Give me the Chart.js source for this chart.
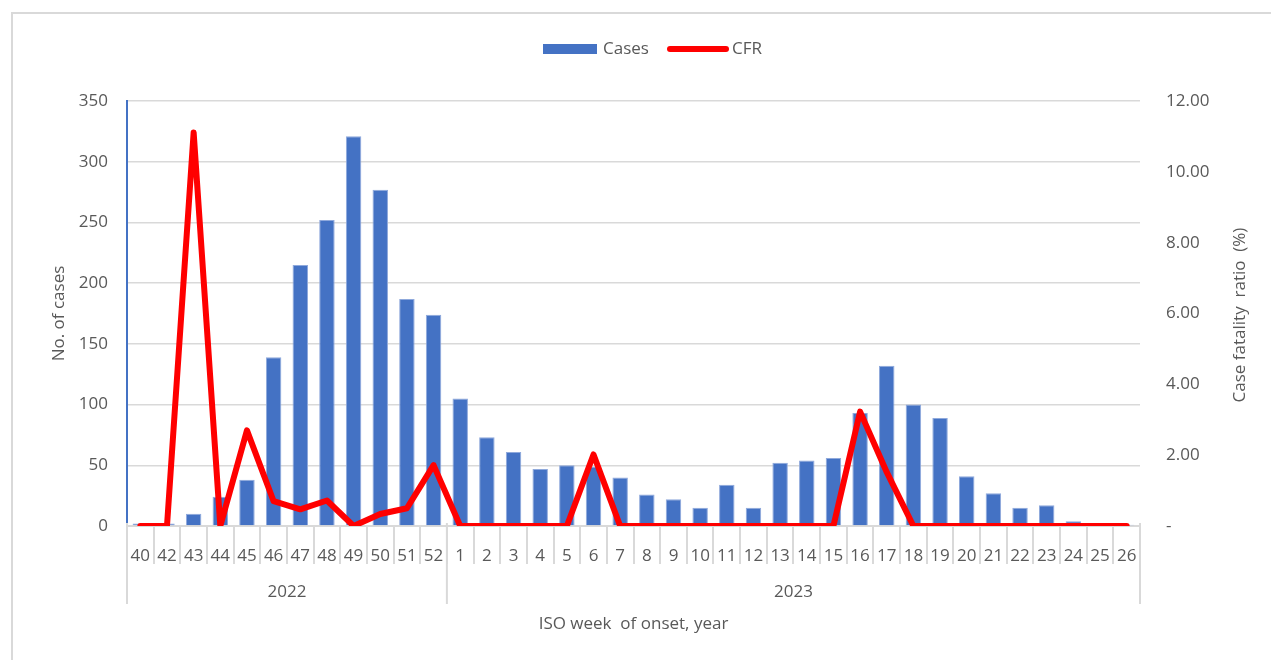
<!DOCTYPE html>
<html>
<head>
<meta charset="utf-8">
<script src="https://cdn.jsdelivr.net/npm/chart.js@4.4.1/dist/chart.umd.min.js"></script>
<style>
  html, body { margin: 0; padding: 0; background: #ffffff; }
  #wrap { position: relative; width: 1271px; height: 660px; }
  canvas { display: block; }
</style>
</head>
<body>
<div id="wrap"><canvas id="chart" width="1271" height="660"></canvas></div>
<script>
// ISO weeks of onset and the year each week belongs to
const weeks = ['40','42','43','44','45','46','47','48','49','50','51','52',
  '1','2','3','4','5','6','7','8','9','10','11','12','13','14','15','16','17','18','19','20','21','22','23','24','25','26'];
const years = ['2022','2022','2022','2022','2022','2022','2022','2022','2022','2022','2022','2022',
  '2023','2023','2023','2023','2023','2023','2023','2023','2023','2023','2023','2023','2023',
  '2023','2023','2023','2023','2023','2023','2023','2023','2023','2023','2023','2023','2023'];

// Weekly case counts
const cases = [2, 2, 10, 24, 38, 139, 215, 252, 321, 277, 187, 174,
  105, 73, 61, 47, 50, 49, 40, 26, 22, 15, 34, 15, 52, 54, 56, 93, 132, 100, 89, 41, 27, 15, 17, 4, 0, 1];

// Case fatality ratio (%) per week
const cfr = [0, 0, 11.11, 0, 2.70, 0.70, 0.47, 0.72, 0, 0.34, 0.50, 1.72,
  0, 0, 0, 0, 0, 2.02, 0, 0, 0, 0, 0, 0, 0, 0, 0, 3.23, 1.52, 0, 0, 0, 0, 0, 0, 0, 0, 0];

// Axis tick settings
const casesTicks = { min: 0, max: 350, step: 50 };
const cfrTicks = { min: 0, max: 12, step: 2 };

const FONT = "'Open Sans', sans-serif";
const TEXT = '#595959';
const GRID = '#d9d9d9';
const BLUE = '#4472C4';
const RED = '#FF0000';

Chart.defaults.font.family = FONT;
Chart.defaults.font.size = 17;
Chart.defaults.color = TEXT;

// Chart frame, legend, year row and right-hand title
const decorations = {
  id: 'decorations',
  afterDraw(chart) {
    const ctx = chart.ctx;
    const x = chart.scales.x;
    const area = chart.chartArea;
    ctx.save();

    // outer frame
    ctx.strokeStyle = GRID;
    ctx.lineWidth = 2;
    ctx.beginPath();
    ctx.moveTo(12, 660);
    ctx.lineTo(12, 13);
    ctx.lineTo(1271, 13);
    ctx.stroke();

    // legend
    ctx.font = '17px ' + FONT;
    ctx.textBaseline = 'middle';
    ctx.textAlign = 'left';
    ctx.fillStyle = BLUE;
    ctx.fillRect(543, 44, 54, 10);
    ctx.fillStyle = TEXT;
    ctx.fillText('Cases', 603, 49);
    ctx.strokeStyle = RED;
    ctx.lineWidth = 6;
    ctx.lineCap = 'round';
    ctx.beginPath();
    ctx.moveTo(670, 49);
    ctx.lineTo(726, 49);
    ctx.stroke();
    ctx.fillText('CFR', 732, 49);

    // year group row
    const n = weeks.length;
    const w = x.getPixelForValue(1) - x.getPixelForValue(0);
    const bounds = [x.getPixelForValue(0) - w / 2];
    const groups = [];
    let start = 0;
    for (let i = 1; i <= n; i++) {
      if (i === n || years[i] !== years[i - 1]) {
        const left = x.getPixelForValue(start) - w / 2;
        const right = x.getPixelForValue(i - 1) + w / 2;
        groups.push({ label: years[start], mid: (left + right) / 2 });
        bounds.push(right);
        start = i;
      }
    }
    ctx.strokeStyle = GRID;
    ctx.lineWidth = 2;
    ctx.lineCap = 'butt';
    bounds.forEach(b => {
      ctx.beginPath();
      ctx.moveTo(b, area.bottom - 3);
      ctx.lineTo(b, 604);
      ctx.stroke();
    });
    ctx.fillStyle = TEXT;
    ctx.textAlign = 'center';
    groups.forEach(g => ctx.fillText(g.label, g.mid, 592));

    // right axis title
    ctx.translate(1240, 315);
    ctx.rotate(-Math.PI / 2);
    ctx.textAlign = 'center';
    ctx.fillText('Case fatality  ratio  (%)', 0, 0);
    ctx.restore();
  }
};

new Chart(document.getElementById('chart'), {
  data: {
    labels: weeks,
    datasets: [
      {
        type: 'line',
        label: 'CFR',
        data: cfr,
        yAxisID: 'yCfr',
        borderColor: RED,
        backgroundColor: RED,
        borderWidth: 6,
        pointRadius: 0,
        tension: 0,
        borderJoinStyle: 'round',
        borderCapStyle: 'round',
        order: 0
      },
      {
        type: 'bar',
        label: 'Cases',
        data: cases,
        yAxisID: 'yCases',
        backgroundColor: BLUE,
        borderColor: '#8fa9dc',
        borderWidth: 1,
        barPercentage: 0.58,
        categoryPercentage: 1,
        order: 1
      }
    ]
  },
  options: {
    responsive: false,
    animation: false,
    devicePixelRatio: 1,
    layout: { padding: { top: 101, left: 0, right: 0, bottom: 0 } },
    plugins: {
      legend: { display: false },
      tooltip: { enabled: false }
    },
    scales: {
      x: {
        type: 'category',
        offset: true,
        grid: {
          offset: true,
          drawOnChartArea: false,
          drawTicks: true,
          tickLength: 38,
          color: GRID,
          lineWidth: 2
        },
        border: { display: true, color: GRID, width: 2 },
        ticks: { padding: -18, maxRotation: 0, autoSkip: false, color: TEXT, font: { size: 17 } },
        title: {
          display: true,
          text: 'ISO week  of onset, year',
          color: TEXT,
          font: { size: 17 },
          padding: { top: 0, bottom: 26 }
        },
        afterFit(scale) { scale.height = 134; }
      },
      yCases: {
        position: 'left',
        min: casesTicks.min,
        max: casesTicks.max,
        ticks: { stepSize: casesTicks.step, padding: 19, color: TEXT, font: { size: 17 } },
        grid: { color: GRID, lineWidth: 1.5, drawTicks: false },
        border: { display: true, color: BLUE, width: 2 },
        title: {
          display: true,
          text: 'No. of cases',
          color: TEXT,
          font: { size: 17 },
          padding: { top: 49, bottom: 0 }
        },
        afterFit(scale) { scale.width = 127; }
      },
      yCfr: {
        position: 'right',
        min: cfrTicks.min,
        max: cfrTicks.max,
        ticks: {
          stepSize: cfrTicks.step,
          padding: 26,
          color: TEXT,
          font: { size: 17 },
          callback: v => (v === 0 ? '-' : Number(v).toFixed(2))
        },
        grid: { drawOnChartArea: false, drawTicks: false },
        border: { display: false },
        afterFit(scale) { scale.width = 131; }
      }
    }
  },
  plugins: [decorations]
});
</script>
</body>
</html>
